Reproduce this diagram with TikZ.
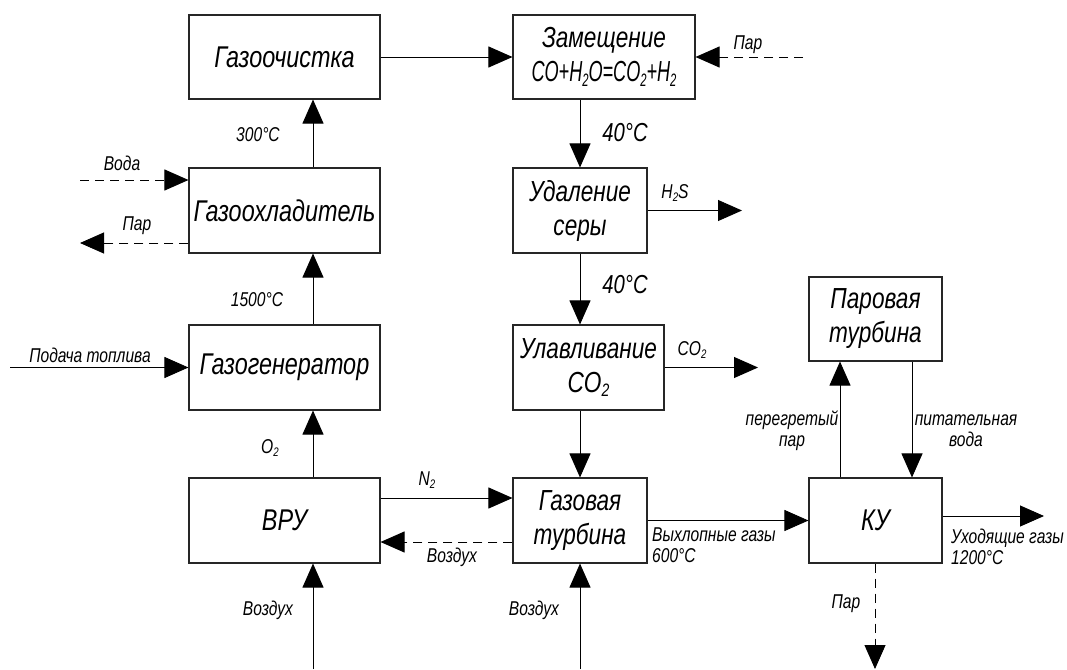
\documentclass[tikz,border=0pt]{standalone}
\usepackage{graphicx}
\usepackage{fontspec}
\setmainfont{Liberation Sans}[FakeStretch=0.78]
\usetikzlibrary{arrows.meta}

% lowered small index, e.g. CO2
\newcommand\lo[1]{\raisebox{-0.3ex}{\scalebox{0.62}{#1}}}
\newcommand\bigtxt{\fontsize{30}{35}\selectfont\itshape}
\newcommand\twotxt{\fontsize{29}{34}\selectfont\itshape}
\newcommand\midtxt{\fontsize{26}{30}\selectfont\itshape}
\newcommand\smalltxt{\fontsize{20}{21}\selectfont\itshape}

\tikzset{
  blk/.style={draw=black!85, line width=1.1pt, minimum height=85pt,
    align=center, font=\bigtxt, inner sep=2pt},
  flow/.style={line width=0.9pt, -{Triangle[length=24pt,width=21pt]}},
  dflow/.style={flow, dash pattern=on 9pt off 6pt},
  lbl/.style={font=\smalltxt, inner sep=0pt, align=center},
}

\begin{document}
\begin{tikzpicture}[x=1pt,y=-1pt]
\useasboundingbox (0,0) rectangle (1067,669);

% process blocks
\node[blk, minimum width=191pt, minimum height=84pt] (ochist) at (284.5,57) {Газоочистка};
\node[blk, minimum width=182pt, minimum height=84pt, font=\twotxt] (zamesh) at (604,57) {Замещение\\\scalebox{0.8}[1]{CO+H\lo{2}O=CO\lo{2}+H\lo{2}}};
\node[blk, minimum width=191pt] (ohlad) at (284.5,210.5) {Газоохладитель};
\node[blk, minimum width=134pt, font=\twotxt] (udal) at (580,210.5) {Удаление\\серы};
\node[blk, minimum width=191pt] (gen) at (284.5,367.5) {Газогенератор};
\node[blk, minimum width=151pt, font=\twotxt] (ulav) at (588.5,367.5) {Улавливание\\CO\lo{2}};
\node[blk, minimum width=191pt] (vru) at (284.5,520.5) {ВРУ};
\node[blk, minimum width=134pt, font=\twotxt] (gt) at (580,520.5) {Газовая\\турбина};
\node[blk, minimum width=133pt] (ku) at (875.5,520.5) {КУ};
\node[blk, minimum width=133pt, minimum height=84pt, font=\twotxt] (pt) at (875.5,319) {Паровая\\турбина};

% free ends of the external streams
\coordinate (vodain) at (80,180);
\coordinate (parout) at (80,243);
\coordinate (fuel) at (10,367.5);
\coordinate (parin) at (803,57);
\coordinate (h2s) at (742,210.5);
\coordinate (co2) at (758,367.5);
\coordinate (airvru) at (313,669);
\coordinate (airgt) at (580,669);
\coordinate (exhaust) at (1044,516);
\coordinate (parku) at (875,669);

% gas path
\draw[flow] (ochist.east) -- (zamesh.west);
\draw[flow] ([xshift=28.5pt]ohlad.north) -- ([xshift=28.5pt]ochist.south);
\draw[flow] ([xshift=28.5pt]gen.north) -- ([xshift=28.5pt]ohlad.south);
\draw[flow] ([xshift=28.5pt]vru.north) -- ([xshift=28.5pt]gen.south);
\draw[flow] (udal.north |- zamesh.south) -- (udal.north);
\draw[flow] (udal.south) -- (udal.south |- ulav.north);
\draw[flow] (gt.north |- ulav.south) -- (gt.north);
\draw[flow] (gt.east) -- (ku.west);
\draw[flow] ([yshift=22.5pt]vru.east) -- ([yshift=22.5pt]gt.west);
\draw[dflow] ([yshift=-21.5pt]gt.west) -- ([yshift=-21.5pt]vru.east);

% external streams
\draw[dflow] (vodain) -- (vodain -| ohlad.west);
\draw[dflow] (parout -| ohlad.west) -- (parout);
\draw[flow] (fuel) -- (gen.west);
\draw[dflow] (parin) -- (parin -| zamesh.east);
\draw[flow] (udal.east) -- (h2s);
\draw[flow] (ulav.east) -- (co2);
\draw[flow] (airvru) -- (airvru |- vru.south);
\draw[flow] (airgt) -- (gt.south);
\draw[flow] (exhaust -| ku.east) -- (exhaust);
\draw[dflow] (parku |- ku.south) -- (parku);

% steam cycle
\draw[flow] ([xshift=-35.5pt]ku.north) -- ([xshift=-35.5pt]pt.south);
\draw[flow] ([xshift=36.5pt]pt.south) -- ([xshift=36.5pt]ku.north);

% stream labels
\node[lbl] (t300) at (258,135) {300°C};
\node[lbl] (t1500) at (257,300) {1500°C};
\node[lbl] (lo2) at (270,448) {O\lo{2}};
\node[lbl] (lvoda) at (122,163) {Вода};
\node[lbl] (lpar1) at (137,226) {Пар};
\node[lbl] (lfuel) at (90,355) {Подача топлива};
\node[lbl] (lpar2) at (748,45) {Пар};
\node[lbl, font=\midtxt] (t40a) at (625,133) {40°C};
\node[lbl] (lh2s) at (675,193) {H\lo{2}S};
\node[lbl, font=\midtxt] (t40b) at (625,285) {40°C};
\node[lbl] (lco2) at (692,350) {CO\lo{2}};
\node[lbl] (ln2) at (427,480) {N\lo{2}};
\node[lbl] (lair1) at (452,557) {Воздух};
\node[lbl] (lair2) at (268,610) {Воздух};
\node[lbl] (lair3) at (534,610) {Воздух};
\node[lbl] (lsteam) at (792,431) {перегретый\\пар};
\node[lbl] (lfeed) at (966,431) {питательная\\вода};
\node[lbl, anchor=west, align=left] (lexh) at (652,545) {Выхлопные газы\\600°C};
\node[lbl, anchor=west, align=left] (lout) at (951,547) {Уходящие газы\\1200°C};
\node[lbl] (lpar3) at (846,604) {Пар};
\end{tikzpicture}
\end{document}
